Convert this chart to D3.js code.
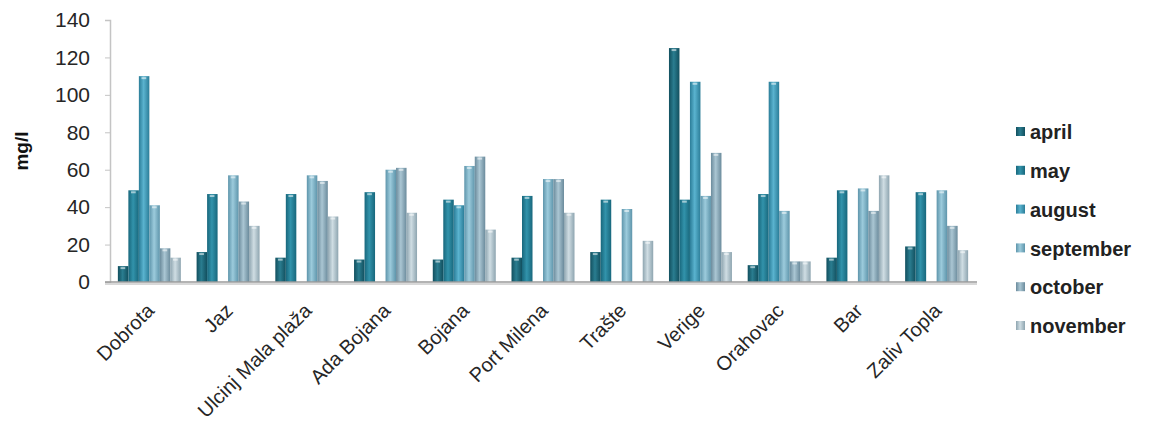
<!DOCTYPE html>
<html>
<head>
<meta charset="utf-8">
<script src="https://cdn.jsdelivr.net/npm/d3@7"></script>
<style>
  html, body { margin: 0; padding: 0; background: #fff; }
  svg { display: block; }
</style>
</head>
<body>
<svg id="chart" width="1149" height="427"></svg>
<script>
// Sampling sites
const categories = ["Dobrota", "Jaz", "Ulcinj Mala plaža", "Ada Bojana", "Bojana", "Port Milena",
                    "Trašte", "Verige", "Orahovac", "Bar", "Zaliv Topla"];

// Monthly values in mg/l (null = no measurement)
const april     = [8.5, 16, 13, 12, 12, 13, 16, 125, 9, 13, 19];
const may       = [49, 47, 47, 48, 44, 46, 44, 44, 47, 49, 48];
const august    = [110, null, null, null, 41, null, null, 107, 107, null, null];
const september = [41, 57, 57, 60, 62, 55, 39, 46, 38, 50, 49];
const october   = [18, 43, 54, 61, 67, 55, null, 69, 11, 38, 30];
const november  = [13, 30, 35, 37, 28, 37, 22, 16, 11, 57, 17];

const seriesNames = ["april", "may", "august", "september", "october", "november"];
const yTicks = [0, 20, 40, 60, 80, 100, 120, 140];

const seriesValues = [april, may, august, september, october, november];
const series = seriesNames.map((name, i) => ({ name, values: seriesValues[i] }));

// Cylinder-like shading: edge / centre colour per series
const palette = {
  april:     { edge: "#124f5e", mid: "#2a7d90" },
  may:       { edge: "#18677c", mid: "#3293ab" },
  august:    { edge: "#2b7d98", mid: "#5ab3cf" },
  september: { edge: "#5e95ab", mid: "#9ccbdc" },
  october:   { edge: "#6b8b9c", mid: "#aac6d3" },
  november:  { edge: "#8ea5b0", mid: "#cfdde3" }
};

const FONT = "Liberation Sans, Arial, sans-serif";
const svg = d3.select("#chart");
const margin = { left: 110, right: 173, top: 20, bottom: 145 };
const W = 1149, H = 427;
const plotBottom = H - margin.bottom; // 282

const x0 = d3.scaleBand()
  .domain(categories)
  .range([margin.left, W - margin.right])
  .paddingInner(0.2)
  .paddingOuter(0.1);

const x1 = d3.scaleBand()
  .domain(seriesNames)
  .range([0, x0.bandwidth()])
  .padding(0);

const y = d3.scaleLinear()
  .domain([0, 140])
  .range([plotBottom, margin.top]);

// Gradients
const defs = svg.append("defs");
seriesNames.forEach(name => {
  const g = defs.append("linearGradient")
    .attr("id", "grad-" + name)
    .attr("x1", "0%").attr("x2", "100%").attr("y1", "0%").attr("y2", "0%");
  g.append("stop").attr("offset", "0%").attr("stop-color", palette[name].edge);
  g.append("stop").attr("offset", "45%").attr("stop-color", palette[name].mid);
  g.append("stop").attr("offset", "100%").attr("stop-color", palette[name].edge);
});

// Y axis
const yAxis = d3.axisLeft(y).tickValues(yTicks).tickSize(5).tickPadding(15);
const yg = svg.append("g")
  .attr("transform", `translate(${margin.left},0)`)
  .call(yAxis);
yg.select(".domain").attr("stroke", "#c4c4c4").attr("stroke-width", 1.5);
yg.selectAll(".tick line").attr("stroke", "#c4c4c4");
yg.selectAll(".tick text")
  .attr("font-family", FONT)
  .attr("font-size", 21)
  .attr("fill", "#262626");

// Y axis title
svg.append("text")
  .attr("transform", `translate(28,151) rotate(-90)`)
  .attr("text-anchor", "middle")
  .attr("font-family", FONT)
  .attr("font-weight", "bold")
  .attr("font-size", 19)
  .attr("fill", "#111")
  .text("mg/l");

// Bars
const groups = svg.append("g").selectAll("g")
  .data(categories)
  .join("g")
  .attr("transform", d => `translate(${x0(d)},0)`);

groups.each(function(cat, ci) {
  const g = d3.select(this);
  const items = series
    .map(s => ({ name: s.name, value: s.values[ci] }))
    .filter(d => d.value != null);

  g.selectAll("rect.bar")
    .data(items)
    .join("rect")
    .attr("class", "bar")
    .attr("x", d => x1(d.name))
    .attr("y", d => y(d.value))
    .attr("width", x1.bandwidth())
    .attr("height", d => y(0) - y(d.value))
    .attr("fill", d => `url(#grad-${d.name})`);

  // light cap highlight on each bar top
  g.selectAll("rect.cap")
    .data(items)
    .join("rect")
    .attr("class", "cap")
    .attr("x", d => x1(d.name) + x1.bandwidth() * 0.25)
    .attr("y", d => y(d.value) + 1)
    .attr("width", x1.bandwidth() * 0.45)
    .attr("height", 2)
    .attr("fill", "#ffffff")
    .attr("opacity", 0.55);
});

// Baseline with soft shadow
svg.append("line")
  .attr("x1", margin.left - 5).attr("x2", W - margin.right + 1)
  .attr("y1", plotBottom + 2).attr("y2", plotBottom + 2)
  .attr("stroke", "#d8d8d8").attr("stroke-width", 2);
svg.append("line")
  .attr("x1", margin.left - 5).attr("x2", W - margin.right + 1)
  .attr("y1", plotBottom).attr("y2", plotBottom)
  .attr("stroke", "#9a9a9a").attr("stroke-width", 1.5);

// Category labels, rotated
svg.append("g").selectAll("text")
  .data(categories)
  .join("text")
  .attr("transform", d => `translate(${x0(d) + x0.bandwidth() / 2 + 6},${plotBottom + 30}) rotate(-45)`)
  .attr("text-anchor", "end")
  .attr("font-family", FONT)
  .attr("font-size", 20)
  .attr("fill", "#262626")
  .text(d => d);

// Legend
const legend = svg.append("g").attr("transform", "translate(1016,0)");
const rows = legend.selectAll("g")
  .data(seriesNames)
  .join("g")
  .attr("transform", (d, i) => `translate(0,${132 + i * 38.8})`);
rows.append("rect")
  .attr("x", 0).attr("y", -5)
  .attr("width", 9).attr("height", 9)
  .attr("fill", d => `url(#grad-${d})`);
rows.append("text")
  .attr("x", 14).attr("y", 0)
  .attr("dy", "0.36em")
  .attr("font-family", FONT)
  .attr("font-weight", "bold")
  .attr("font-size", 20)
  .attr("fill", "#222")
  .text(d => d);
</script>
</body>
</html>
